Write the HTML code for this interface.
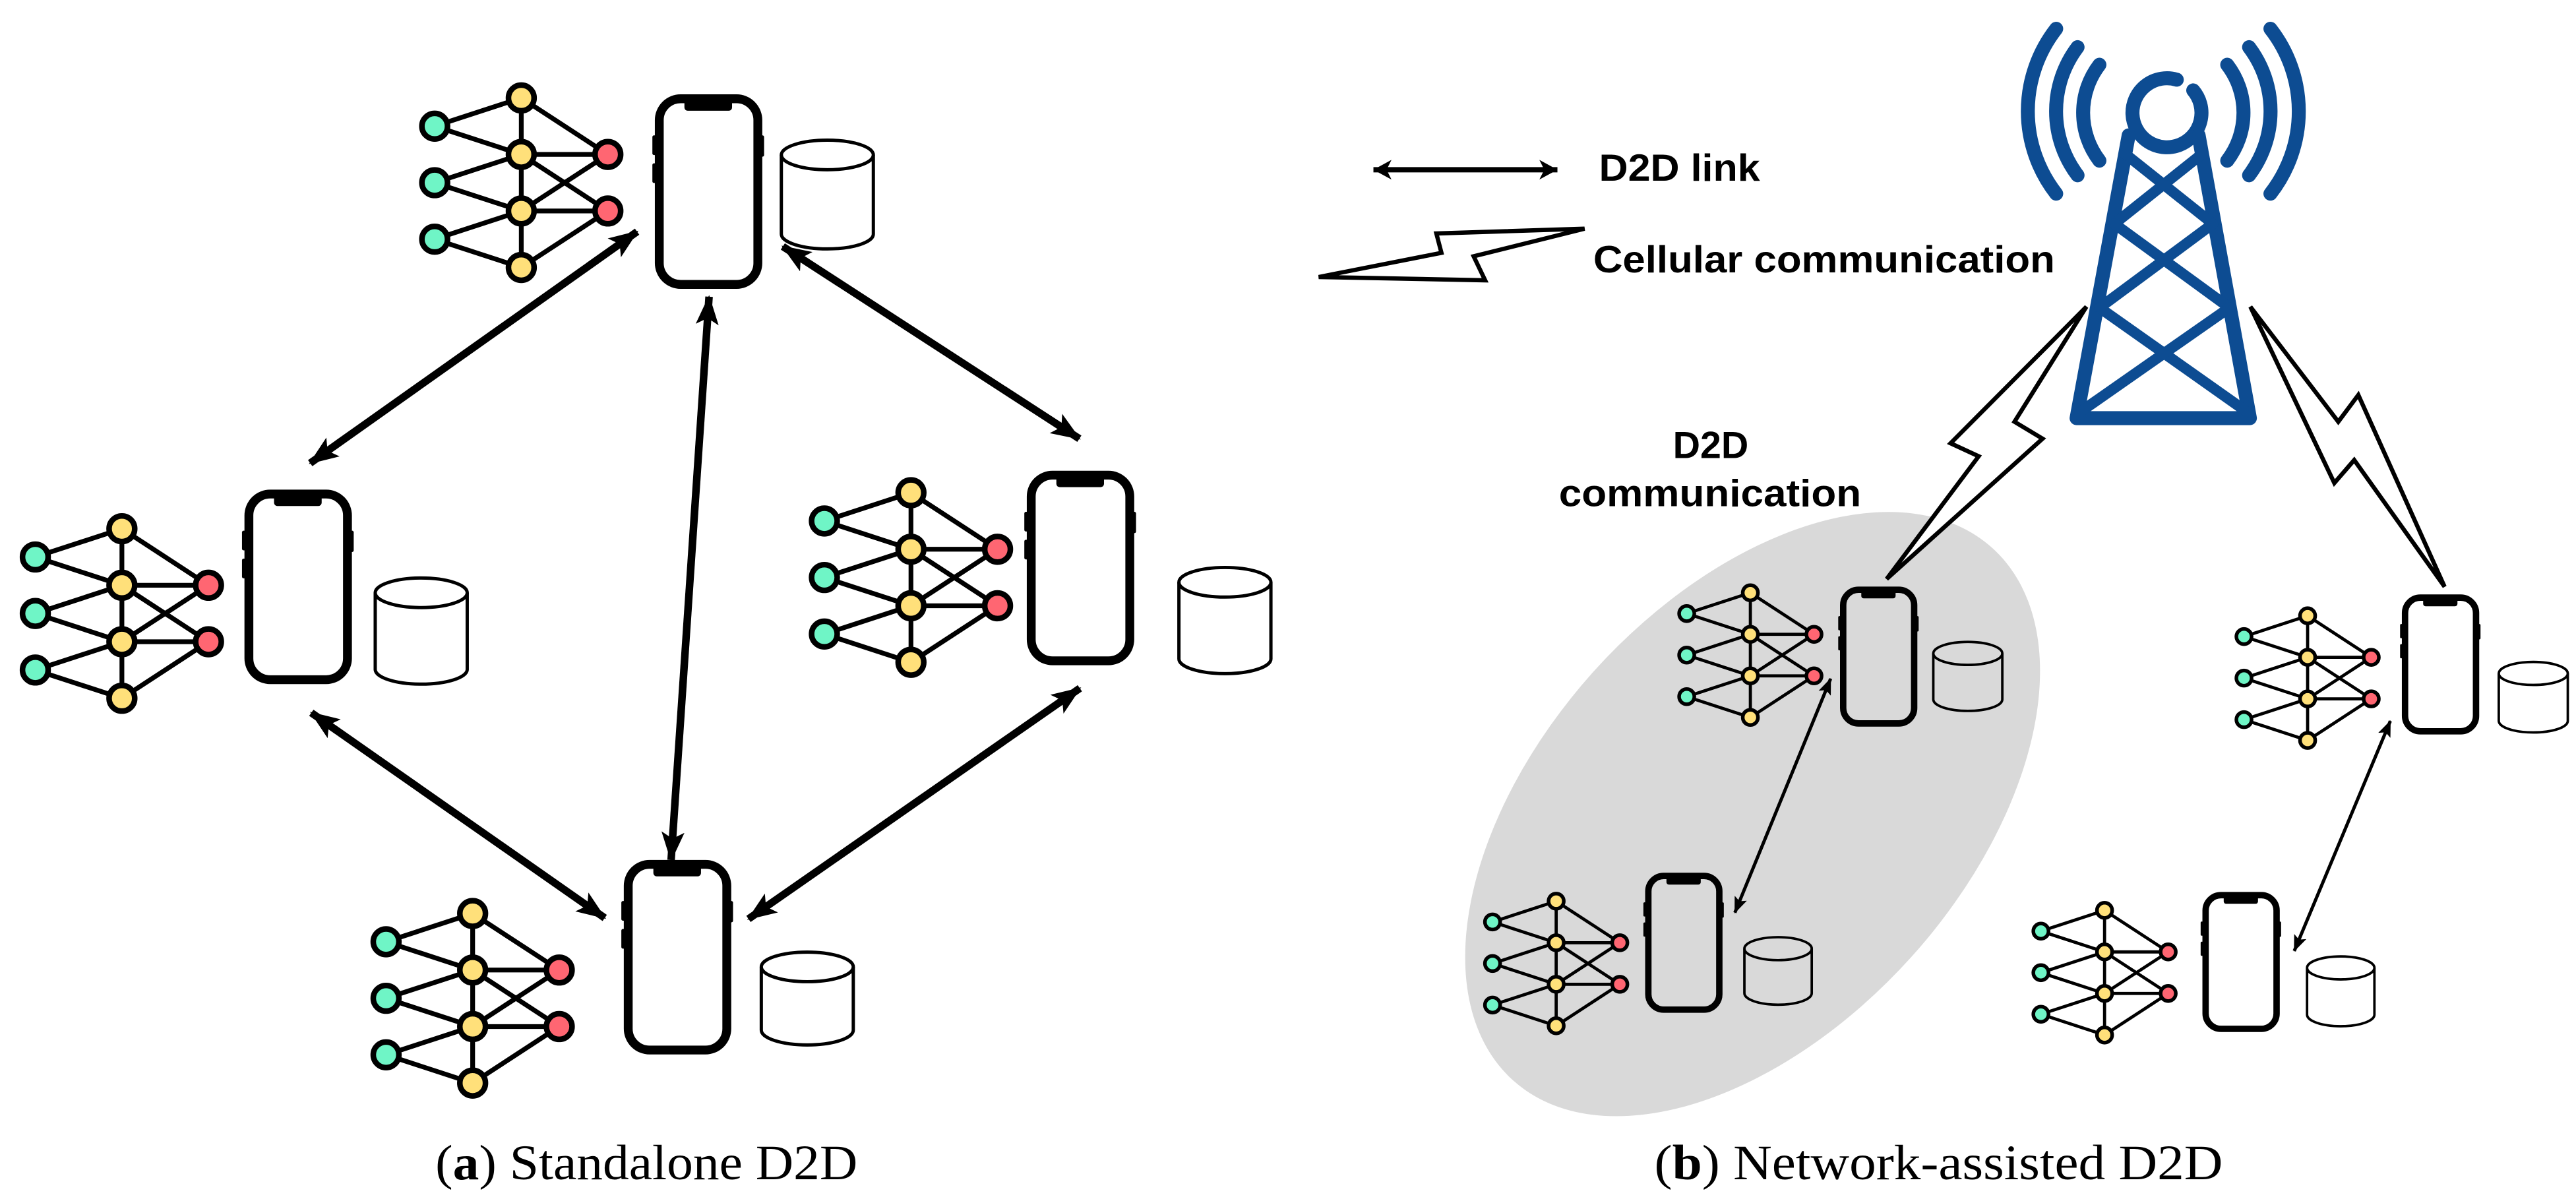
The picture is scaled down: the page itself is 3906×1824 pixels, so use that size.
<!DOCTYPE html>
<html><head><meta charset="utf-8"><style>
html,body{margin:0;padding:0;background:#fff;}
svg{display:block;}
</style></head><body>
<svg xmlns="http://www.w3.org/2000/svg" width="3906" height="1824" viewBox="0 0 1568 732.2" preserveAspectRatio="none">
<defs>
  <g id="nnB">
    <g stroke="#000" stroke-width="2.9" fill="none">
      <line x1="0" y1="17.2" x2="52.7" y2="0"/><line x1="0" y1="17.2" x2="52.7" y2="34.4"/>
      <line x1="0" y1="51.6" x2="52.7" y2="34.4"/><line x1="0" y1="51.6" x2="52.7" y2="68.8"/>
      <line x1="0" y1="86" x2="52.7" y2="68.8"/><line x1="0" y1="86" x2="52.7" y2="103.2"/>
      <line x1="52.7" y1="0" x2="52.7" y2="103.2"/>
      <line x1="52.7" y1="0" x2="105.4" y2="34.4"/><line x1="52.7" y1="34.4" x2="105.4" y2="34.4"/>
      <line x1="52.7" y1="34.4" x2="105.4" y2="68.8"/><line x1="52.7" y1="68.8" x2="105.4" y2="34.4"/>
      <line x1="52.7" y1="68.8" x2="105.4" y2="68.8"/><line x1="52.7" y1="103.2" x2="105.4" y2="68.8"/>
    </g>
    <g stroke="#000" stroke-width="3.4">
      <circle cx="0" cy="17.2" r="7.8" fill="#6ff5c6"/><circle cx="0" cy="51.6" r="7.8" fill="#6ff5c6"/><circle cx="0" cy="86" r="7.8" fill="#6ff5c6"/>
      <circle cx="52.7" cy="0" r="7.8" fill="#ffe07a"/><circle cx="52.7" cy="34.4" r="7.8" fill="#ffe07a"/><circle cx="52.7" cy="68.8" r="7.8" fill="#ffe07a"/><circle cx="52.7" cy="103.2" r="7.8" fill="#ffe07a"/>
      <circle cx="105.4" cy="34.4" r="7.8" fill="#ff6672"/><circle cx="105.4" cy="68.8" r="7.8" fill="#ff6672"/>
    </g>
  </g>
  <g id="nnS">
    <g stroke="#000" stroke-width="2.6" fill="none">
      <line x1="0" y1="17.2" x2="52.7" y2="0"/><line x1="0" y1="17.2" x2="52.7" y2="34.4"/>
      <line x1="0" y1="51.6" x2="52.7" y2="34.4"/><line x1="0" y1="51.6" x2="52.7" y2="68.8"/>
      <line x1="0" y1="86" x2="52.7" y2="68.8"/><line x1="0" y1="86" x2="52.7" y2="103.2"/>
      <line x1="52.7" y1="0" x2="52.7" y2="103.2"/>
      <line x1="52.7" y1="0" x2="105.4" y2="34.4"/><line x1="52.7" y1="34.4" x2="105.4" y2="34.4"/>
      <line x1="52.7" y1="34.4" x2="105.4" y2="68.8"/><line x1="52.7" y1="68.8" x2="105.4" y2="34.4"/>
      <line x1="52.7" y1="68.8" x2="105.4" y2="68.8"/><line x1="52.7" y1="103.2" x2="105.4" y2="68.8"/>
    </g>
    <g stroke="#000" stroke-width="3">
      <circle cx="0" cy="17.2" r="6.3" fill="#6ff5c6"/><circle cx="0" cy="51.6" r="6.3" fill="#6ff5c6"/><circle cx="0" cy="86" r="6.3" fill="#6ff5c6"/>
      <circle cx="52.7" cy="0" r="6.3" fill="#ffe07a"/><circle cx="52.7" cy="34.4" r="6.3" fill="#ffe07a"/><circle cx="52.7" cy="68.8" r="6.3" fill="#ffe07a"/><circle cx="52.7" cy="103.2" r="6.3" fill="#ffe07a"/>
      <circle cx="105.4" cy="34.4" r="6.3" fill="#ff6672"/><circle cx="105.4" cy="68.8" r="6.3" fill="#ff6672"/>
    </g>
  </g>
  <g id="phone">
    <rect x="2.7" y="2.7" width="60" height="113" rx="13" ry="13" fill="none" stroke="#000" stroke-width="5.4"/>
    <rect x="18" y="2" width="29" height="8" rx="2" fill="#000"/>
    <rect x="-1.5" y="25" width="3.5" height="12" rx="1" fill="#000"/>
    <rect x="-1.5" y="42" width="3.5" height="12" rx="1" fill="#000"/>
    <rect x="63" y="25" width="3.5" height="13" rx="1" fill="#000"/>
  </g>
  <marker id="ah" viewBox="0 0 18 14" refX="17" refY="7" markerWidth="18" markerHeight="14" markerUnits="userSpaceOnUse" orient="auto-start-reverse">
    <path d="M0,0 L18,7 L0,14 L4,7 Z" fill="#000"/>
  </marker>
  <marker id="ahs" viewBox="0 0 10 8" refX="9.5" refY="4" markerWidth="10" markerHeight="8" markerUnits="userSpaceOnUse" orient="auto-start-reverse">
    <path d="M0,0 L10,4 L0,8 L2,4 Z" fill="#000"/>
  </marker>
  <marker id="ahl" viewBox="0 0 11 12" refX="11" refY="6" markerWidth="11" markerHeight="12" markerUnits="userSpaceOnUse" orient="auto-start-reverse">
    <path d="M0,0 L11,6 L0,12 L3,6 Z" fill="#000"/>
  </marker>
</defs>
<rect width="1568" height="732.2" fill="#fff"/>

<ellipse cx="1066.8" cy="495.5" rx="218" ry="130" transform="rotate(-48 1066.8 495.5)" fill="#d9d9d9"/>

<use href="#nnB" transform="translate(264.6,59.6)"/>
<use href="#phone" transform="translate(398.6,57.4)"/>
<use href="#nnB" transform="translate(21.5,321.8)"/>
<use href="#phone" transform="translate(148.8,298)"/>
<use href="#nnB" transform="translate(501.8,299.9)"/>
<use href="#phone" transform="translate(625,286.5)"/>
<use href="#nnB" transform="translate(235,556)"/>
<use href="#phone" transform="translate(379.7,523.4)"/>

<g fill="none" stroke="#000" stroke-width="2">
  <path d="M475.6,94.3 v48.2 a28,9 0 0 0 56,0 v-48.2"/><ellipse cx="503.6" cy="94.3" rx="28" ry="9"/>
  <path d="M228.4,360.8 v46.6 a28,9 0 0 0 56,0 v-46.6"/><ellipse cx="256.4" cy="360.8" rx="28" ry="9"/>
  <path d="M717.6,354.4 v46.6 a28,9 0 0 0 56,0 v-46.6"/><ellipse cx="745.6" cy="354.4" rx="28" ry="9"/>
  <path d="M463.4,588.5 v38.5 a28,9 0 0 0 56,0 v-38.5"/><ellipse cx="491.4" cy="588.5" rx="28" ry="9"/>
</g>

<g stroke="#000" stroke-width="4.6" marker-start="url(#ah)" marker-end="url(#ah)">
  <line x1="387.8" y1="141" x2="188.8" y2="281.9"/>
  <line x1="431.6" y1="180.6" x2="408.5" y2="523.4"/>
  <line x1="476.5" y1="150" x2="657" y2="267"/>
  <line x1="189.5" y1="433.8" x2="368.1" y2="558.7"/>
  <line x1="657.3" y1="418.9" x2="455.6" y2="559.3"/>
</g>

<use href="#nnS" transform="translate(1026.7,360.8) scale(0.735)"/>
<use href="#phone" transform="translate(1120,357) scale(0.72)"/>
<use href="#nnS" transform="translate(908.5,548.5) scale(0.735)"/>
<use href="#phone" transform="translate(1001.4,531.2) scale(0.72)"/>
<use href="#nnS" transform="translate(1365.9,374.8) scale(0.735)"/>
<use href="#phone" transform="translate(1462,361.8) scale(0.72)"/>
<use href="#nnS" transform="translate(1242.3,554.1) scale(0.735)"/>
<use href="#phone" transform="translate(1340.6,542.9) scale(0.72)"/>
<g fill="none" stroke="#000" stroke-width="1.5">
  <path d="M1176.8,397.7 v28 a21,7 0 0 0 42,0 v-28"/><ellipse cx="1197.8" cy="397.7" rx="21" ry="7"/>
  <path d="M1061.8,577.4 v27.1 a20.5,7 0 0 0 41,0 v-27.1"/><ellipse cx="1082.3" cy="577.4" rx="20.5" ry="7"/>
  <path d="M1521,409.9 v28.9 a21,7 0 0 0 42,0 v-28.9"/><ellipse cx="1542" cy="409.9" rx="21" ry="7"/>
  <path d="M1404.3,589.1 v28.5 a20.5,7 0 0 0 41,0 v-28.5"/><ellipse cx="1424.8" cy="589.1" rx="20.5" ry="7"/>
</g>
<g stroke="#000" stroke-width="2" marker-start="url(#ahs)" marker-end="url(#ahs)">
  <line x1="1114.3" y1="413.1" x2="1056" y2="555.5"/>
  <line x1="1455" y1="438.8" x2="1396.5" y2="578.8"/>
</g>

<g fill="none" stroke="#0d4c92" stroke-width="8.5" stroke-linecap="round" stroke-linejoin="round">
  <path d="M1325,48.5 A21,21 0 1 0 1335,55"/>
  <path d="M1295.7,82.4 L1264,254.5 L1369.5,254.5 L1338.3,82.4"/>
  <g stroke-width="6.5">
    <line x1="1293" y1="93.2" x2="1347" y2="136.2"/><line x1="1341" y1="93.2" x2="1287" y2="136.2"/>
    <line x1="1287" y1="136.2" x2="1357" y2="187.3"/><line x1="1347" y1="136.2" x2="1278" y2="187.3"/>
    <line x1="1278" y1="187.3" x2="1368" y2="250.9"/><line x1="1357" y1="187.3" x2="1266" y2="250.9"/>
  </g>
  <path d="M1277.9,39.4 A48,48 0 0 0 1277.9,97.8"/>
  <path d="M1264.6,28.7 A64.7,64.7 0 0 0 1264.6,106.7"/>
  <path d="M1251.6,17.5 A81.6,81.6 0 0 0 1251.6,117.9"/>
  <path d="M1355.7,39.4 A48,48 0 0 1 1355.7,97.8"/>
  <path d="M1369,28.7 A64.7,64.7 0 0 1 1369,106.7"/>
  <path d="M1382,17.5 A81.6,81.6 0 0 1 1382,117.9"/>
</g>

<g fill="#fff" stroke="#000" stroke-width="2.6" stroke-linejoin="miter">
  <polygon points="1270,186.7 1226.2,256.7 1243.3,267 1148.4,352.4 1204.4,277.7 1187.3,269.8"/>
  <polygon points="1369.8,186.7 1423.3,256.7 1435.5,240.4 1488,357.1 1433,280 1420.9,294"/>
  <polygon points="802.7,168.6 904,170.6 897,156 964.5,139.2 874.3,142.1 877.4,153.9"/>
</g>

<line x1="836" y1="103.3" x2="948" y2="103.3" stroke="#000" stroke-width="3.2" marker-start="url(#ahl)" marker-end="url(#ahl)"/>

<g font-family="'Liberation Sans', Arial, sans-serif" font-weight="bold" fill="#000">
  <text x="973.3" y="110" font-size="23" textLength="98" lengthAdjust="spacingAndGlyphs">D2D link</text>
  <text x="969.8" y="165.7" font-size="23" textLength="281" lengthAdjust="spacingAndGlyphs">Cellular communication</text>
  <text x="1041.3" y="278.7" font-size="23" text-anchor="middle">D2D</text>
  <text x="948.9" y="308" font-size="23" textLength="184" lengthAdjust="spacingAndGlyphs">communication</text>
</g>
<g font-family="'Liberation Serif', 'Times New Roman', serif" fill="#000" font-size="30">
  <text x="265" y="717.8" textLength="257" lengthAdjust="spacingAndGlyphs">(<tspan font-weight="bold">a</tspan>) Standalone D2D</text>
  <text x="1007" y="717.8" textLength="346" lengthAdjust="spacingAndGlyphs">(<tspan font-weight="bold">b</tspan>) Network-assisted D2D</text>
</g>
</svg>
</body></html>
